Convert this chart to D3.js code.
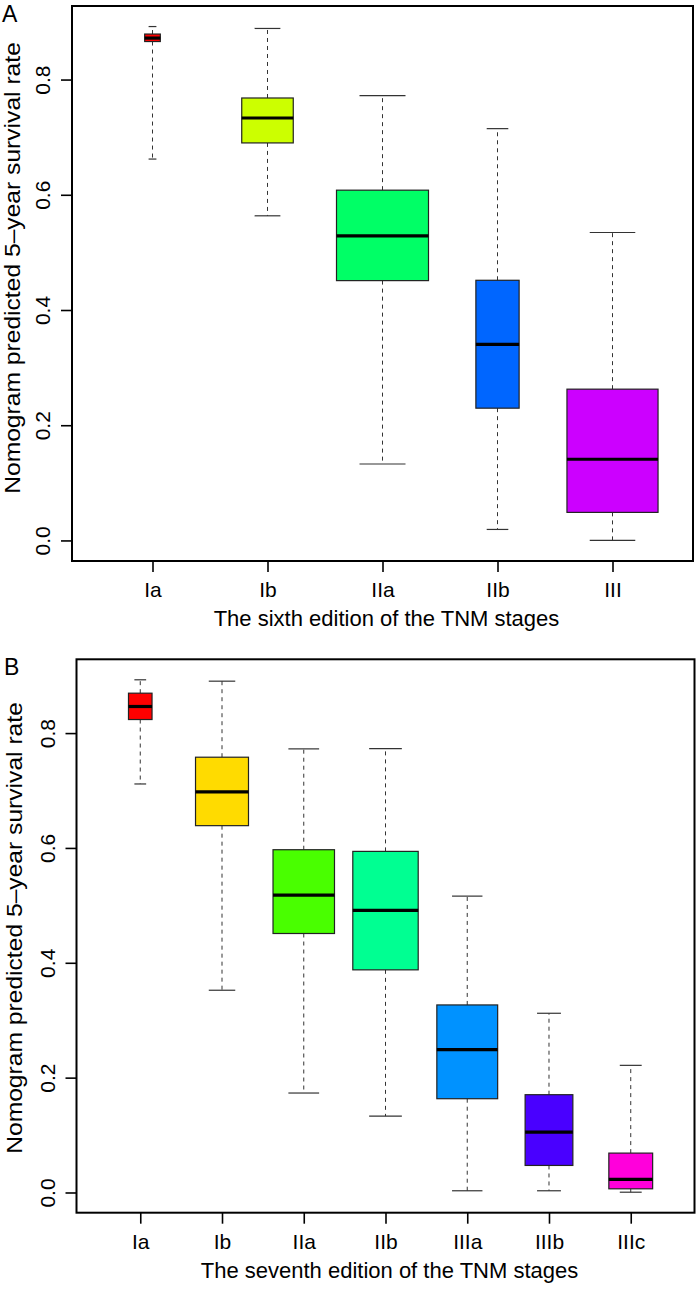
<!DOCTYPE html>
<html><head><meta charset="utf-8">
<script src="https://cdn.jsdelivr.net/npm/d3@7"></script>
<style>body{margin:0;background:#fff}</style>
</head><body><svg id="c" width="696" height="1290"></svg>
<script>
// ---- Panel A data (sixth edition) ----
const stagesA = ["Ia", "Ib", "IIa", "IIb", "III"];
const whiskerLowA  = [0.662, 0.5635, 0.1327, 0.0191, 0.0];
const q1A          = [0.866, 0.690, 0.451, 0.2296, 0.0487];
const medianA      = [0.872, 0.7333, 0.5287, 0.3403, 0.1409];
const q3A          = [0.879, 0.768, 0.608, 0.4516, 0.2626];
const whiskerHighA = [0.892, 0.8887, 0.772, 0.7148, 0.5345];
const relWidthA    = [0.17, 0.56, 1.0, 0.47, 0.99];
const colorsA = ["#FF0000", "#CCFF00", "#00FF66", "#0066FF", "#CC00FF"];

// ---- Panel B data (seventh edition) ----
const stagesB = ["Ia", "Ib", "IIa", "IIb", "IIIa", "IIIb", "IIIc"];
const whiskerLowB  = [0.7114, 0.3522, 0.1732, 0.133, 0.003, 0.003, 0.0005];
const q1B          = [0.8236, 0.6388, 0.451, 0.3877, 0.1633, 0.0471, 0.0064];
const medianB      = [0.8463, 0.6975, 0.5179, 0.4911, 0.2488, 0.1052, 0.0227];
const q3B          = [0.8695, 0.758, 0.5969, 0.594, 0.3266, 0.1703, 0.0686];
const whiskerHighB = [0.8928, 0.8904, 0.7725, 0.773, 0.5161, 0.3121, 0.2214];
const relWidthB    = [0.36, 0.81, 0.94, 1.0, 0.93, 0.73, 0.67];
const colorsB = ["#FF0000", "#FFDB00", "#49FF00", "#00FF92", "#0092FF", "#4900FF", "#FF00DB"];

const yTicks = [0, 0.2, 0.4, 0.6, 0.8];
const yTickLabels = ["0.0", "0.2", "0.4", "0.6", "0.8"];
const yTitle = "Nomogram predicted 5\u2013year survival rate";
const xTitleA = "The sixth edition of the TNM stages";
const xTitleB = "The seventh edition of the TNM stages";

const FONT = "'Liberation Sans', Arial, Helvetica, sans-serif";
const svg = d3.select("#c");

function panel(cfg) {
  const n = cfg.stages.length;
  const x = d3.scaleLinear()
    .domain([0.5 - 0.04 * n, n + 0.5 + 0.04 * n])
    .range([cfg.left, cfg.right]);
  const lo = d3.min(cfg.low), hi = d3.max(cfg.high), pad = 0.04 * (hi - lo);
  const y = d3.scaleLinear().domain([lo - pad, hi + pad]).range([cfg.bottom, cfg.top]);
  const g = svg.append("g");
  const rows = cfg.stages.map((s, i) => ({
    i: i + 1, lo: cfg.low[i], q1: cfg.q1[i], med: cfg.med[i], q3: cfg.q3[i],
    hi: cfg.high[i], w: cfg.rel[i] * 0.4, color: cfg.colors[i]
  }));
  const bx = g.selectAll("g.box").data(rows).join("g").attr("class", "box");
  // whiskers (dashed)
  bx.append("line").attr("x1", d => x(d.i)).attr("x2", d => x(d.i))
    .attr("y1", d => y(d.q3)).attr("y2", d => y(d.hi))
    .attr("stroke", "#333").attr("stroke-width", 1).attr("stroke-dasharray", "4,4");
  bx.append("line").attr("x1", d => x(d.i)).attr("x2", d => x(d.i))
    .attr("y1", d => y(d.q1)).attr("y2", d => y(d.lo))
    .attr("stroke", "#333").attr("stroke-width", 1).attr("stroke-dasharray", "4,4");
  // staples
  bx.append("line").attr("x1", d => x(d.i - d.w / 2)).attr("x2", d => x(d.i + d.w / 2))
    .attr("y1", d => y(d.hi)).attr("y2", d => y(d.hi))
    .attr("stroke", "#333").attr("stroke-width", 1.2);
  bx.append("line").attr("x1", d => x(d.i - d.w / 2)).attr("x2", d => x(d.i + d.w / 2))
    .attr("y1", d => y(d.lo)).attr("y2", d => y(d.lo))
    .attr("stroke", "#333").attr("stroke-width", 1.2);
  // boxes
  bx.append("rect").attr("x", d => x(d.i - d.w)).attr("width", d => x(d.i + d.w) - x(d.i - d.w))
    .attr("y", d => y(d.q3)).attr("height", d => y(d.q1) - y(d.q3))
    .attr("fill", d => d.color).attr("stroke", "#222").attr("stroke-width", 1.2);
  // medians
  bx.append("line").attr("x1", d => x(d.i - d.w)).attr("x2", d => x(d.i + d.w))
    .attr("y1", d => y(d.med)).attr("y2", d => y(d.med))
    .attr("stroke", "#000").attr("stroke-width", 3.2);

  // axes
  const ya = g.append("g").attr("transform", `translate(${cfg.left},0)`)
    .call(d3.axisLeft(y).tickValues(yTicks).tickFormat((d, i) => yTickLabels[i]).tickSize(11));
  ya.select(".domain").remove();
  ya.selectAll(".tick line").attr("stroke", "#000").attr("stroke-width", 1.6);
  ya.selectAll(".tick text").attr("x", null).attr("dy", null).attr("text-anchor", "middle")
    .attr("transform", "translate(-22,0) rotate(-90)")
    .attr("font-family", FONT).attr("font-size", 21).attr("fill", "#000");

  const xa = g.append("g").attr("transform", `translate(0,${cfg.bottom})`)
    .call(d3.axisBottom(x).tickValues(d3.range(1, n + 1)).tickFormat(d => cfg.stages[d - 1]).tickSize(11));
  xa.select(".domain").remove();
  xa.selectAll(".tick line").attr("stroke", "#000").attr("stroke-width", 1.6);
  xa.selectAll(".tick text").attr("y", 36).attr("dy", null)
    .attr("font-family", FONT).attr("font-size", 21).attr("fill", "#000");

  // frame
  g.append("rect").attr("x", cfg.left).attr("y", cfg.top)
    .attr("width", cfg.right - cfg.left).attr("height", cfg.bottom - cfg.top)
    .attr("fill", "none").attr("stroke", "#000").attr("stroke-width", 2);

  // titles
  g.append("text").attr("x", (cfg.left + cfg.right) / 2 + 4).attr("y", cfg.bottom + 65)
    .attr("text-anchor", "middle").attr("font-family", FONT).attr("font-size", 22)
    .text(cfg.xTitle);
  g.append("text").attr("transform", `translate(${cfg.yTitleX},${cfg.yTitleY}) rotate(-90) scale(1.12,1)`)
    .attr("text-anchor", "middle").attr("font-family", FONT).attr("font-size", 22)
    .text(yTitle);
  g.append("text").attr("x", cfg.letterX).attr("y", cfg.top + 16)
    .attr("font-family", FONT).attr("font-size", 23).text(cfg.letter);
}

panel({
  stages: stagesA, low: whiskerLowA, q1: q1A, med: medianA, q3: q3A, high: whiskerHighA,
  rel: relWidthA, colors: colorsA, left: 72, right: 693, top: 6, bottom: 561,
  xTitle: xTitleA, yTitleX: 20, yTitleY: 268, letter: "A", letterX: 2
});
panel({
  stages: stagesB, low: whiskerLowB, q1: q1B, med: medianB, q3: q3B, high: whiskerHighB,
  rel: relWidthB, colors: colorsB, left: 76.5, right: 694.5, top: 659.3, bottom: 1212.7,
  xTitle: xTitleB, yTitleX: 22, yTitleY: 928, letter: "B", letterX: 4
});
</script>
</body></html>
